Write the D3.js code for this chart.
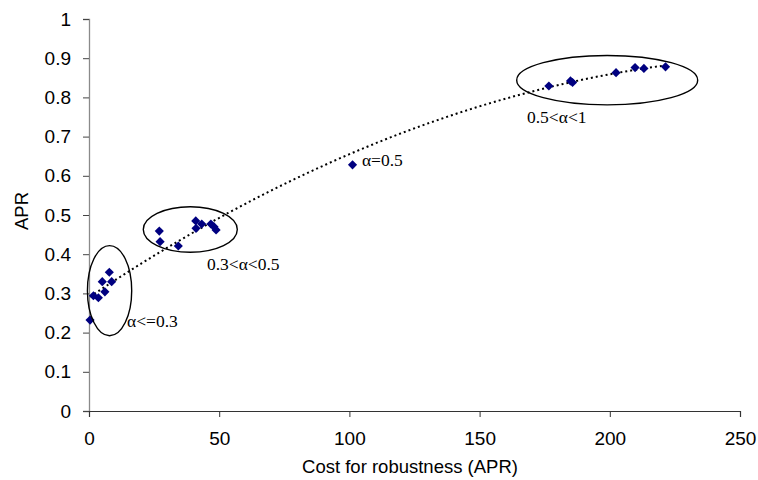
<!DOCTYPE html>
<html>
<head>
<meta charset="utf-8">
<script src="https://cdn.jsdelivr.net/npm/d3@7/dist/d3.min.js"></script>
<style>
  html, body { margin: 0; padding: 0; background: #fff; }
  svg { display: block; }
</style>
</head>
<body>
<svg id="chart" width="758" height="480"></svg>
<script>
// ---- data ----
const costs = [0.4, 1.7, 3.6, 5.1, 6.1, 7.8, 8.7,
               27.0, 27.3, 34.3, 41.0, 41.1, 43.3, 46.8, 48.0, 48.8,
               101.2,
               176.6, 184.9, 185.7, 202.4, 209.7, 213.1, 221.4];
const aprs  = [0.232, 0.294, 0.289, 0.330, 0.304, 0.354, 0.330,
               0.459, 0.432, 0.421, 0.485, 0.466, 0.477, 0.477, 0.470, 0.462,
               0.628,
               0.829, 0.842, 0.838, 0.863, 0.876, 0.874, 0.878];
const xTicks = [0, 50, 100, 150, 200, 250];
const yTicks = [0, 0.1, 0.2, 0.3, 0.4, 0.5, 0.6, 0.7, 0.8, 0.9, 1];
const groupLabels = ["α<=0.3", "0.3<α<0.5", "α=0.5", "0.5<α<1"];
const labelX = [14.6, 45.3, 104.8, 168.2];
const labelY = [0.214, 0.36, 0.624, 0.735];
// ellipses round the groups (data units: centre x, centre y, radius x, radius y)
const ellCx = [7.9, 38.9, 199.0];
const ellCy = [0.307, 0.463, 0.844];
const ellRx = [8.5, 18.05, 34.75];
const ellRy = [0.115, 0.058, 0.063];

const points = costs.map((c, i) => ({x: c, y: aprs[i]}));

// ---- scales ----
const svg = d3.select("#chart");
const x = d3.scaleLinear().domain([0, 250]).range([89, 740]);
const y = d3.scaleLinear().domain([0, 1]).range([411, 19]);

// ---- axes ----
const yAxis = svg.append("g").attr("transform", `translate(${x(0)},0)`)
  .call(d3.axisLeft(y).tickValues(yTicks).tickSize(6).tickPadding(12)
        .tickFormat(d => d3.format("")(+d.toFixed(1))));
yAxis.select(".domain").attr("stroke", "#8a8a8a").attr("stroke-width", 1.3);
yAxis.selectAll(".tick line").attr("stroke", "#444");
yAxis.selectAll("text").attr("font-family", "Liberation Sans, Arial, sans-serif")
  .attr("font-size", 19).attr("fill", "#000");

const xAxis = svg.append("g").attr("transform", `translate(0,${y(0)})`)
  .call(d3.axisBottom(x).tickValues(xTicks).tickSize(6).tickSizeOuter(6).tickPadding(15));
xAxis.select(".domain").attr("stroke", "#333").attr("stroke-width", 1.2);
xAxis.selectAll(".tick line").attr("stroke", "#333");
xAxis.selectAll("text").attr("font-family", "Liberation Sans, Arial, sans-serif")
  .attr("font-size", 19).attr("fill", "#000");

svg.append("text")
  .attr("x", 410).attr("y", 473).attr("text-anchor", "middle")
  .attr("font-family", "Liberation Sans, Arial, sans-serif").attr("font-size", 18.5)
  .text("Cost for robustness (APR)");
svg.append("text")
  .attr("transform", "translate(28,211) rotate(-90)").attr("text-anchor", "middle")
  .attr("font-family", "Liberation Sans, Arial, sans-serif").attr("font-size", 18.5)
  .text("APR");

// ---- quadratic least-squares trend line computed from the data ----
function quadFit(xs, ys) {
  let n = xs.length, s = [0,0,0,0,0], t = [0,0,0];
  for (let i = 0; i < n; i++) {
    const xi = xs[i], yi = ys[i];
    let p = 1;
    for (let k = 0; k < 5; k++) { s[k] += p; if (k < 3) t[k] += p * yi; p *= xi; }
  }
  const A = [[s[0], s[1], s[2], t[0]], [s[1], s[2], s[3], t[1]], [s[2], s[3], s[4], t[2]]];
  for (let c = 0; c < 3; c++) {
    for (let r = c + 1; r < 3; r++) {
      const f = A[r][c] / A[c][c];
      for (let k = c; k < 4; k++) A[r][k] -= f * A[c][k];
    }
  }
  const b = [0,0,0];
  for (let r = 2; r >= 0; r--) {
    let v = A[r][3];
    for (let k = r + 1; k < 3; k++) v -= A[r][k] * b[k];
    b[r] = v / A[r][r];
  }
  return b;
}
const coef = quadFit(costs, aprs);
const xmin = d3.min(costs), xmax = d3.max(costs);
const trend = d3.range(0, 101).map(i => {
  const xv = xmin + (xmax - xmin) * i / 100;
  return {x: xv, y: coef[0] + coef[1] * xv + coef[2] * xv * xv};
});
svg.append("path").datum(trend)
  .attr("fill", "none").attr("stroke", "#000").attr("stroke-width", 2)
  .attr("stroke-dasharray", "2,3")
  .attr("d", d3.line().x(d => x(d.x)).y(d => y(d.y)));

// ---- markers ----
svg.append("g").selectAll("path").data(points).join("path")
  .attr("transform", d => `translate(${x(d.x)},${y(d.y)}) rotate(45)`)
  .attr("d", d3.symbol(d3.symbolSquare, 42))
  .attr("fill", "#000080");

// ---- ellipses ----
svg.append("g").selectAll("ellipse").data(ellCx).join("ellipse")
  .attr("cx", (d, i) => x(d))
  .attr("cy", (d, i) => y(ellCy[i]))
  .attr("rx", (d, i) => x(ellRx[i]) - x(0))
  .attr("ry", (d, i) => y(0) - y(ellRy[i]))
  .attr("fill", "none").attr("stroke", "#000").attr("stroke-width", 1.4);

// ---- group labels ----
svg.append("g").selectAll("text").data(groupLabels).join("text")
  .attr("x", (d, i) => x(labelX[i]))
  .attr("y", (d, i) => y(labelY[i]))
  .attr("font-family", "Liberation Serif, Times New Roman, serif")
  .attr("font-size", 17.5)
  .text(d => d);
</script>
</body>
</html>
